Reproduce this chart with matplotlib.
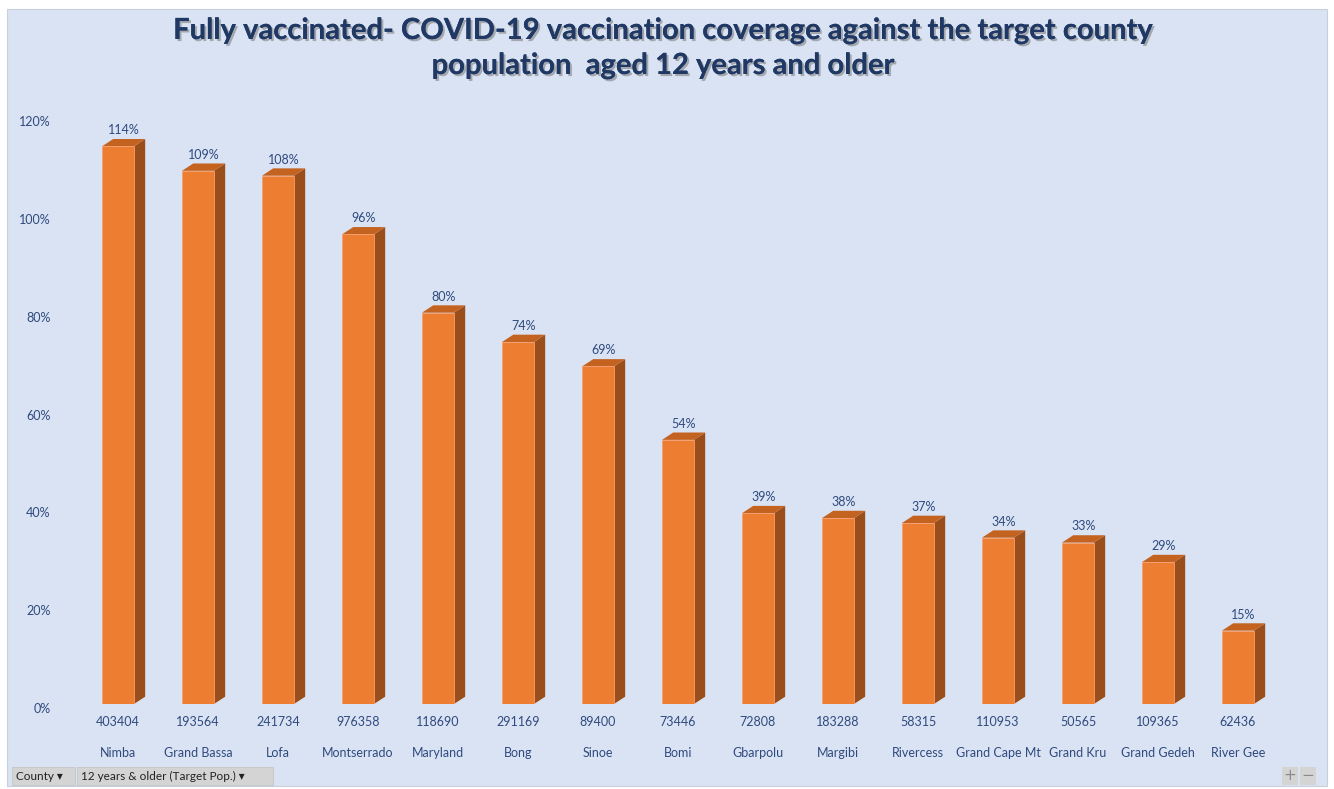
import numpy as np
import matplotlib
matplotlib.use('Agg')
import matplotlib.pyplot as plt
import matplotlib.patches as mpatches
import matplotlib.transforms as mtransforms
import matplotlib.patheffects as pe

counties = ['Nimba', 'Grand Bassa', 'Lofa', 'Montserrado', 'Maryland', 'Bong', 'Sinoe', 'Bomi',
            'Gbarpolu', 'Margibi', 'Rivercess', 'Grand Cape Mt', 'Grand Kru', 'Grand Gedeh', 'River Gee']
target_pop = ['403404', '193564', '241734', '976358', '118690', '291169', '89400', '73446',
              '72808', '183288', '58315', '110953', '50565', '109365', '62436']
coverage = [1.14, 1.09, 1.08, 0.96, 0.80, 0.74, 0.69, 0.54, 0.39, 0.38, 0.37, 0.34, 0.33, 0.29, 0.15]
yticks = [0, 0.2, 0.4, 0.6, 0.8, 1.0, 1.2]

W, H = 1334, 789
panel = '#DAE3F3'
front = '#ED7D31'
side = '#9A4E1C'
topc = '#C4621F'
navy = '#1F3864'
lab = '#2F4A7E'

fig = plt.figure(figsize=(W / 100, H / 100), dpi=100)
fig.patch.set_facecolor('white')
fig.patches.append(mpatches.Rectangle((7 / W, 3 / H), 1320 / W, 777 / H, transform=fig.transFigure,
                                      facecolor=panel, edgecolor='#C8D0DC', lw=0.8, zorder=-2))

ax = fig.add_axes([70 / W, (H - 704) / H, 1220 / W, 587 / H])
ax.set_zorder(2)
ax.set_facecolor('none')
for s in ax.spines.values():
    s.set_visible(False)
ax.set_xlim(-0.6, -0.6 + 1220 / 80)
ax.set_ylim(0, 1.2)

bw = 0.4
dx = 0.14
dy = 0.015
x = np.arange(len(counties))
ax.bar(x, coverage, width=bw, color=front, edgecolor='#F4A070', lw=0.6, zorder=3)
for xi, v in zip(x, coverage):
    r = xi + bw / 2
    l = xi - bw / 2
    ax.add_patch(mpatches.Polygon([(r, 0), (r + dx, dy), (r + dx, v + dy), (r, v)],
                                  closed=True, facecolor=side, edgecolor='none', zorder=2))
    ax.add_patch(mpatches.Polygon([(l, v), (r, v), (r + dx, v + dy), (l + dx, v + dy)],
                                  closed=True, facecolor=topc, edgecolor='none', zorder=2))
    ax.annotate('%d%%' % round(v * 100), (xi + dx / 2, v + dy), xytext=(0, 2), textcoords='offset points',
                ha='center', va='bottom', fontsize=9, color=lab, family='Lato')

ax.set_yticks(yticks)
ax.set_yticklabels(['%d%%' % round(t * 100) for t in yticks], fontsize=9, color=lab, family='Lato')
ax.tick_params(axis='y', length=0, pad=14)
ax.set_xticks([])
# tick labels sit a few pixels lower than the bar baseline in the original
shift = mtransforms.ScaledTranslation(0, -4 / 100, fig.dpi_scale_trans)
for t in ax.get_yticklabels():
    t.set_transform(t.get_transform() + shift)

tr = mtransforms.blended_transform_factory(ax.transData, fig.transFigure)
for xi, p, c in zip(x, target_pop, counties):
    ax.text(xi, (H - 722) / H, p, transform=tr, ha='center', va='center', fontsize=9, color=lab, family='Lato')
    ax.text(xi, (H - 753) / H, c, transform=tr, ha='center', va='center', fontsize=9, color=lab, family='Lato')

# title
shadow = [pe.withSimplePatchShadow(offset=(1.5, -1.5), shadow_rgbFace='#808080', alpha=0.6), pe.Normal()]
fig.text(0.497, (H - 31) / H, 'Fully vaccinated- COVID-19 vaccination coverage against the target county',
         ha='center', va='center', fontsize=21, fontweight='bold', color=navy, family='Lato', path_effects=shadow)
fig.text(0.497, (H - 66) / H, 'population  aged 12 years and older',
         ha='center', va='center', fontsize=21, fontweight='bold', color=navy, family='Lato', path_effects=shadow)

# pivot field buttons
for x0, w, txt in [(12, 63, 'County \u25be'), (77, 196, '12 years & older (Target Pop.) \u25be')]:
    fig.patches.append(mpatches.Rectangle((x0 / W, (H - 785) / H), w / W, 18 / H, transform=fig.transFigure,
                                          facecolor='#D4D4D4', edgecolor='#C0C0C0', lw=0.5, zorder=1))
    fig.text((x0 + 4) / W, (H - 776) / H, txt, ha='left', va='center', fontsize=8.5, color='#222222',
             family=['Lato', 'DejaVu Sans'])
for x0, txt in [(1282, '+'), (1300, '\u2212')]:
    fig.patches.append(mpatches.Rectangle((x0 / W, (H - 785) / H), 16 / W, 18 / H, transform=fig.transFigure,
                                          facecolor='#D4D4D4', edgecolor='none', zorder=1))
    fig.text((x0 + 8) / W, (H - 776) / H, txt, ha='center', va='center', fontsize=11, color='#8A8A8A')

fig.savefig('out.png', dpi=100, facecolor=fig.get_facecolor())
